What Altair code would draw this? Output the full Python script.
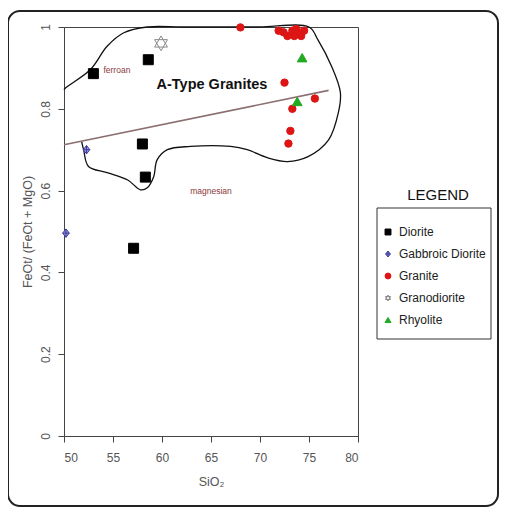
import altair as alt
import pandas as pd

# ---- data ----
rocks = ["Diorite", "Gabbroic Diorite", "Granite", "Granodiorite", "Rhyolite"]

diorite_x = [53.0, 58.6, 58.0, 58.3, 57.1]
diorite_y = [0.886, 0.920, 0.714, 0.633, 0.459]

gabbro_x = [52.3, 50.2]
gabbro_y = [0.700, 0.496]

granite_x = [68.0, 71.9, 72.4, 72.8, 73.3, 73.5, 73.8, 74.2, 74.5, 73.7,
             72.5, 73.3, 75.6, 73.1, 72.9]
granite_y = [0.999, 0.991, 0.987, 0.978, 0.991, 0.978, 0.987, 0.978, 0.991, 0.995,
             0.864, 0.800, 0.825, 0.746, 0.715]

granodiorite_x = [59.9]
granodiorite_y = [0.960]

rhyolite_x = [74.3, 73.8]
rhyolite_y = [0.925, 0.818]

# ferroan / magnesian boundary
divider_x = [50.0, 77.0]
divider_y = [0.712, 0.845]

# A-type granite field outline
outline_x = [50.0, 50.15, 52.7, 54.4, 56.1, 58.5, 62.0, 66.0, 70.0, 75.0, 75.9, 77.3, 78.2,
             78.0, 77.0, 74.9, 72.8, 70.8, 68.7, 67.0, 62.9, 60.55, 59.5, 59.15, 58.5,
             57.8, 56.5, 54.4, 52.5, 52.0, 51.8]
outline_y = [0.847, 0.851, 0.896, 0.953, 0.986, 1.0, 1.0, 1.0, 1.0, 1.0, 0.969, 0.904, 0.840,
             0.791, 0.724, 0.683, 0.671, 0.680, 0.700, 0.708, 0.708, 0.700, 0.675, 0.634, 0.607,
             0.602, 0.626, 0.644, 0.659, 0.700, 0.720]

labels_text = ["ferroan", "magnesian"]
labels_x = [55.4, 65.0]
labels_y = [0.895, 0.600]

title_text = ["A-Type Granites"]
title_x = [65.1]
title_y = [0.859]

x_ticks = [50, 55, 60, 65, 70, 75, 80]
y_ticks = [0, 0.2, 0.4, 0.6, 0.8, 1.0]

FONT = "Liberation Sans, Arial, sans-serif"

# ---- tables ----
rows = []
for name, xs, ys in [("Diorite", diorite_x, diorite_y),
                     ("Gabbroic Diorite", gabbro_x, gabbro_y),
                     ("Granite", granite_x, granite_y),
                     ("Granodiorite", granodiorite_x, granodiorite_y),
                     ("Rhyolite", rhyolite_x, rhyolite_y)]:
    for xv, yv in zip(xs, ys):
        rows.append({"Rock": name, "SiO2": xv, "ratio": yv})
pts = pd.DataFrame(rows)

outline = pd.DataFrame({"SiO2": outline_x, "ratio": outline_y, "i": range(len(outline_x))})
divider = pd.DataFrame({"SiO2": divider_x, "ratio": divider_y})
ann = pd.DataFrame({"t": labels_text, "SiO2": labels_x, "ratio": labels_y})
big = pd.DataFrame({"t": title_text, "SiO2": title_x, "ratio": title_y})
leg = pd.DataFrame({"Rock": rocks})

xscale = alt.Scale(domain=[50, 80], nice=False, zero=False)


def yscale():
    return alt.Scale(domain=[0, 1], nice=False, zero=False)


xenc = alt.X("SiO2:Q", scale=xscale,
             axis=alt.Axis(title="SiO₂", values=x_ticks, labelPadding=10, titlePadding=12,
                           tickSize=6))
y_plain = alt.Y("ratio:Q", scale=yscale(), axis=None)
yenc = alt.Y("ratio:Q", scale=yscale(),
             axis=alt.Axis(title="FeOt/ (FeOt + MgO)", values=y_ticks, labelAngle=270,
                           labelExpr="datum.value == 0 ? '0' : datum.value == 1 ? '1' : format(datum.value, '.1f')",
                           labelPadding=6, titlePadding=5, tickSize=6))

star = "M0,-1L0.866,0.5L-0.866,0.5Z M0,1L0.866,-0.5L-0.866,-0.5Z"
dplus = "M0,-1L0.8,0L0,1L-0.8,0Z M0,-1L0,1 M-0.8,0L0.8,0"

shape_enc = alt.Shape("Rock:N", scale=alt.Scale(domain=rocks,
                      range=["square", dplus, "circle", star, "triangle-up"]), legend=None)
fill_enc = alt.Fill("Rock:N", scale=alt.Scale(domain=rocks,
                    range=["#000000", "#9a9ad0", "#dd1515", "transparent", "#22aa22"]),
                    legend=None)
stroke_enc = alt.Stroke("Rock:N", scale=alt.Scale(domain=rocks,
                        range=["#000000", "#3b3ba0", "#dd1515", "#8a8a8a", "#22aa22"]),
                        legend=None)

points = alt.Chart(pts).mark_point(opacity=1, strokeWidth=1).encode(
    x=xenc, y=yenc, shape=shape_enc, fill=fill_enc, stroke=stroke_enc,
    size=alt.Size("Rock:O", scale=alt.Scale(type="ordinal", domain=rocks,
                  range=[100, 70, 55, 220, 95]), legend=None),
)

outline_line = alt.Chart(outline).mark_line(color="#111111", strokeWidth=1.3,
                                            interpolate="catmull-rom").encode(
    x=xenc, y=y_plain, order="i:Q")

divider_line = alt.Chart(divider).mark_line(color="#8c6f70", strokeWidth=1.6).encode(
    x=xenc, y=y_plain)

ann_text = alt.Chart(ann).mark_text(font=FONT, fontSize=8.5, color="#8b3a3a").encode(
    x=xenc, y=y_plain, text="t:N")

big_text = alt.Chart(big).mark_text(font=FONT, fontSize=14.5, fontWeight="bold",
                                    color="#111111").encode(
    x=xenc, y=y_plain, text="t:N")

# ---- legend drawn from the rocks list ----
leg_y = alt.Y("Rock:N", scale=alt.Scale(type="point", domain=rocks, range=[205, 293],
                                        padding=0), axis=None)

legend_box = alt.Chart(pd.DataFrame({"a": [0]})).mark_rect(
    fill="white", stroke="#333333", strokeWidth=1).encode(
    x=alt.value(313), x2=alt.value(427), y=alt.value(181), y2=alt.value(312))

legend_syms = alt.Chart(leg).mark_point(opacity=1, strokeWidth=1, size=35).encode(
    x=alt.value(324), y=leg_y, shape=shape_enc, fill=fill_enc, stroke=stroke_enc)

legend_labels = alt.Chart(leg).mark_text(font=FONT, fontSize=12, color="#222222",
                                         align="left", baseline="middle").encode(
    x=alt.value(335), y=leg_y, text="Rock:N")

legend_title = alt.Chart(pd.DataFrame({"t": ["LEGEND"]})).mark_text(
    font=FONT, fontSize=15, color="#111111").encode(
    x=alt.value(374), y=alt.value(168), text="t:N")

frame = alt.Chart(pd.DataFrame({"a": [0]})).mark_rect(
    fill="transparent", stroke="#222222", strokeWidth=2, cornerRadius=12).encode(
    x=alt.value(-56), x2=alt.value(434), y=alt.value(-16), y2=alt.value(479))

chart = alt.layer(frame, outline_line, divider_line, ann_text, big_text, points,
                  legend_box, legend_syms, legend_labels, legend_title).resolve_scale(
    y="independent"
).properties(
    width=294, height=409,
    autosize=alt.AutoSizeParams(type="none"),
    padding={"left": 56, "top": 19, "right": 141, "bottom": 72},
    background="white",
).configure_view(stroke="#444444", strokeWidth=1).configure_axis(
    grid=False, domainColor="#444444", tickColor="#444444", labelColor="#555555",
    titleColor="#555555", labelFont=FONT, titleFont=FONT, labelFontSize=12,
    titleFontSize=12.5, titleFontWeight="normal"
)

chart.save("out.html", embed_options={"renderer": "svg", "actions": False})
